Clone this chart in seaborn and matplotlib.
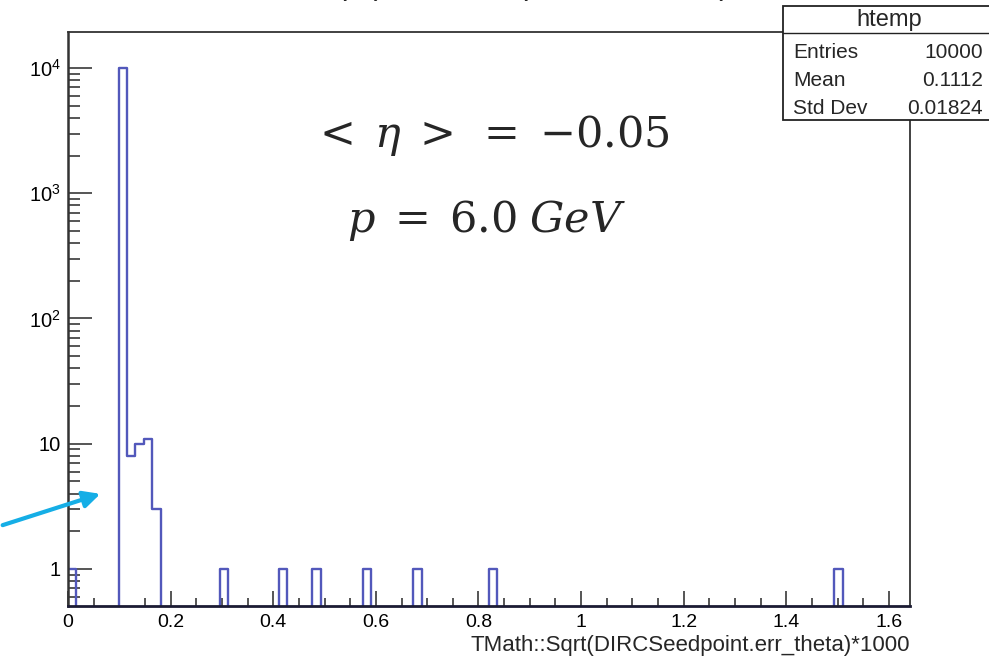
import numpy as np
import pandas as pd
import seaborn as sns
import matplotlib
matplotlib.use("Agg")
import matplotlib.pyplot as plt
from matplotlib.patches import Rectangle, FancyArrowPatch
from matplotlib.lines import Line2D

# ---------------- data ----------------
bin_centers = [0.0082, 0.1067, 0.1231, 0.1395, 0.1559, 0.1723, 0.3036,
               0.4185, 0.4841, 0.5825, 0.6810, 0.8287, 1.5015]
bin_counts = [1, 9960, 8, 10, 11, 3, 1, 1, 1, 1, 1, 1, 1]
x_range = (0.0, 1.641)
n_bins = 100
x_ticks = [0, 0.2, 0.4, 0.6, 0.8, 1.0, 1.2, 1.4, 1.6]
x_tick_labels = ["0", "0.2", "0.4", "0.6", "0.8", "1", "1.2", "1.4", "1.6"]
y_ticks = [1, 10, 100, 1000, 10000]
y_tick_labels = ["1", "10", r"$10^{2}$", r"$10^{3}$", r"$10^{4}$"]
x_label = "TMath::Sqrt(DIRCSeedpoint.err_theta)*1000"
title = "TMath::Sqrt(DIRCSeedpoint.err_theta)"
stats_name = "htemp"
stats_rows = [("Entries", "10000"), ("Mean", "0.1112"), ("Std Dev", "0.01824")]
note_eta = r"$<\;\eta\;>\;=\;{-}0.05$"
note_p = r"$p\;=\;6.0\;GeV$"

df = pd.DataFrame({"x": bin_centers, "w": bin_counts})

sns.set_style("ticks")
plt.rcParams["font.family"] = ["Liberation Sans", "DejaVu Sans"]
plt.rcParams["mathtext.fontset"] = "custom"
plt.rcParams["mathtext.rm"] = "Liberation Sans"
plt.rcParams["mathtext.it"] = "Liberation Sans:italic"

W, H = 989, 656
fig = plt.figure(figsize=(W / 100, H / 100), dpi=100)
L, R, T, B = 68, 910, 32, 606
ax = fig.add_axes([L / W, 1 - B / H, (R - L) / W, (B - T) / H])

sns.histplot(data=df, x="x", weights="w", bins=n_bins, binrange=x_range,
             element="step", fill=False, color="#5258bb", linewidth=1.7, ax=ax)
ax.set_yscale("log")
ax.set_xlim(*x_range)
ax.set_ylim(0.506, 19400)

ax.set_xticks(x_ticks)
ax.set_xticklabels(x_tick_labels)
ax.set_xticks(np.arange(0, 1.641, 0.05), minor=True)
ax.set_yticks(y_ticks)
ax.set_yticklabels(y_tick_labels)
minor_y = [m * 10 ** e for e in range(-1, 5) for m in range(2, 10)]
ax.set_yticks([v for v in minor_y if 0.506 < v < 19400], minor=True)
ax.yaxis.set_minor_formatter(matplotlib.ticker.NullFormatter())

ax.tick_params(axis="x", which="major", direction="in", length=10.8, width=1.4,
               color="#555555", labelsize=14, pad=6, labelcolor="black")
ax.tick_params(axis="x", which="minor", direction="in", length=5.8, width=1.4,
               color="#555555")
ax.tick_params(axis="y", which="major", direction="in", length=17, width=1.4,
               color="#555555", labelsize=14.5, pad=5, labelcolor="black")
ax.tick_params(axis="y", which="minor", direction="in", length=8.6, width=1.4,
               color="#555555")
ax.set_xlabel("")
ax.set_ylabel("")
for side, sp in ax.spines.items():
    sp.set_visible(True)
    sp.set_color("#333333")
    sp.set_linewidth(1.3)
ax.spines["bottom"].set_color("#1b1b33")
ax.spines["bottom"].set_linewidth(2.0)
ax.spines["left"].set_linewidth(1.8)

# x label, right aligned like ROOT
fig.text(R / W, 1 - 651 / H, x_label, ha="right", va="baseline", fontsize=16)

# clipped title at the very top (only the tips of descenders visible)
fig.text(208 / W, 1 + 6 / H, title, ha="left", va="baseline", fontsize=22)

# annotations
fig.text(490 / W, 1 - 136 / H, note_eta, ha="center", va="center",
         fontsize=31, math_fontfamily="dejavuserif")
fig.text(486 / W, 1 - 220 / H, note_p, ha="center", va="center",
         fontsize=31, math_fontfamily="dejavuserif")

# stats box
bx0, bx1, by0, by1 = 783, 1000, 6, 120
fig.patches.append(Rectangle((bx0 / W, 1 - by1 / H), (bx1 - bx0) / W,
                             (by1 - by0) / H, transform=fig.transFigure,
                             facecolor="white", edgecolor="#222222",
                             linewidth=1.3, zorder=5))
fig.lines.append(Line2D([bx0 / W, 1], [1 - 33 / H, 1 - 33 / H],
                        transform=fig.transFigure, color="#222222",
                        linewidth=1.0, zorder=6))
fig.text(889 / W, 1 - 20 / H, stats_name, ha="center", va="center",
         fontsize=17, zorder=7)
for i, (lab, val) in enumerate(stats_rows):
    yy = 1 - (53 + 27.5 * i) / H
    fig.text(793 / W, yy, lab, ha="left", va="center", fontsize=15, zorder=7)
    fig.text(983 / W, yy, val, ha="right", va="center", fontsize=15, zorder=7)

# cyan arrow
arrow = FancyArrowPatch((0 / W, 1 - 526 / H), (103 / W, 1 - 493 / H),
                        transform=fig.transFigure, arrowstyle="-|>",
                        mutation_scale=25, color="#15aee6", linewidth=3,
                        zorder=8)
fig.patches.append(arrow)

fig.savefig("out.png", dpi=100)
